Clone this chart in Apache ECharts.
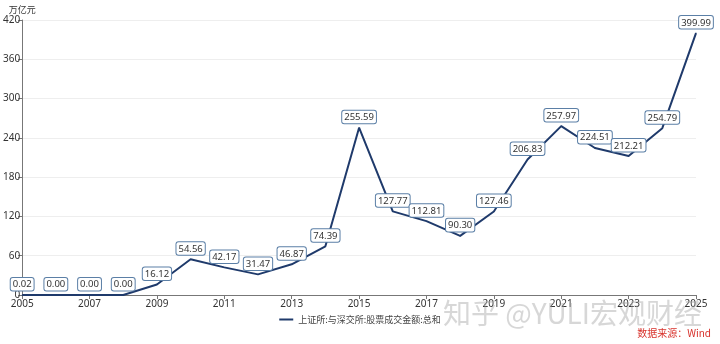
<!DOCTYPE html>
<html>
<head>
<meta charset="utf-8">
<script src="https://cdn.jsdelivr.net/npm/echarts@6/dist/echarts.min.js"></script>
<style>
  html, body { margin: 0; padding: 0; background: #fff; }
  #chart { width: 720px; height: 344px; }
</style>
</head>
<body>
<div id="chart"></div>
<script>
// Annual turnover of SSE + SZSE stock trading (万亿元)
const years = ['2005','2006','2007','2008','2009','2010','2011','2012','2013','2014','2015',
               '2016','2017','2018','2019','2020','2021','2022','2023','2024','2025'];
const turnover = [0.02, 0.00, 0.00, 0.00, 16.12, 54.56, 42.17, 31.47, 46.87, 74.39, 255.59,
                  127.77, 112.81, 90.30, 127.46, 206.83, 257.97, 224.51, 212.21, 254.79, 399.99];
const seriesName = '上证所:与深交所:股票成交金额:总和';
const yAxisName = '万亿元';
const sourceText = '数据来源：Wind';
const watermarkText = '知乎 @YULI宏观财经';

const FONT = "'Noto Sans', 'Noto Sans CJK SC', sans-serif";
const CJK = "'Noto Sans CJK SC', sans-serif";
const chart = echarts.init(document.getElementById('chart'), null, { renderer: 'canvas' });

chart.setOption({
  animation: false,
  textStyle: { fontFamily: FONT },
  grid: { left: 22, right: 24, top: 20, bottom: 49, containLabel: false },
  legend: {
    bottom: 15,
    left: 'center',
    icon: 'rect',
    itemWidth: 14,
    itemHeight: 2,
    itemGap: 10,
    textStyle: { fontSize: 9, color: '#444', fontFamily: CJK },
    data: [seriesName]
  },
  xAxis: {
    type: 'category',
    data: years,
    boundaryGap: false,
    axisLine: { lineStyle: { color: '#777', width: 1 } },
    axisTick: { show: true, interval: 1, length: 4, lineStyle: { color: '#777' } },
    axisLabel: { interval: 1, color: '#333', fontSize: 10, margin: 4, fontFamily: FONT }
  },
  yAxis: {
    type: 'value',
    min: 0,
    max: 420,
    interval: 60,
    name: yAxisName,
    nameGap: 6,
    nameTextStyle: { color: '#333', fontSize: 9, fontFamily: CJK, align: 'center' },
    axisLine: { show: true, lineStyle: { color: '#777', width: 1 } },
    axisTick: { show: true, length: 4, lineStyle: { color: '#777' } },
    axisLabel: { color: '#333', fontSize: 10, margin: 2, fontFamily: FONT },
    splitLine: { show: true, lineStyle: { color: '#eeeeee', width: 1 } }
  },
  series: [{
    name: seriesName,
    type: 'line',
    data: turnover,
    symbol: 'circle',
    symbolSize: 1,
    showSymbol: true,
    itemStyle: { color: '#1f3a6b' },
    lineStyle: { color: '#1f3a6b', width: 2 },
    label: {
      show: true,
      position: 'top',
      distance: 4,
      formatter: p => p.value.toFixed(2),
      color: '#333',
      fontSize: 9.5,
      fontFamily: FONT,
      backgroundColor: '#fff',
      borderColor: '#5b7fa6',
      borderWidth: 1,
      borderRadius: 2,
      padding: [2, 2, 1, 2]
    }
  }],
  graphic: [
    {
      type: 'text',
      right: 18,
      top: 299,
      z: 100,
      style: {
        text: watermarkText,
        fontSize: 28,
        fontFamily: CJK,
        fill: 'rgba(160,160,160,0.42)'
      }
    },
    {
      type: 'text',
      right: 9,
      top: 328,
      z: 101,
      style: {
        text: sourceText,
        fontSize: 10,
        fontFamily: CJK,
        fill: '#d8322c'
      }
    }
  ]
});
</script>
</body>
</html>
